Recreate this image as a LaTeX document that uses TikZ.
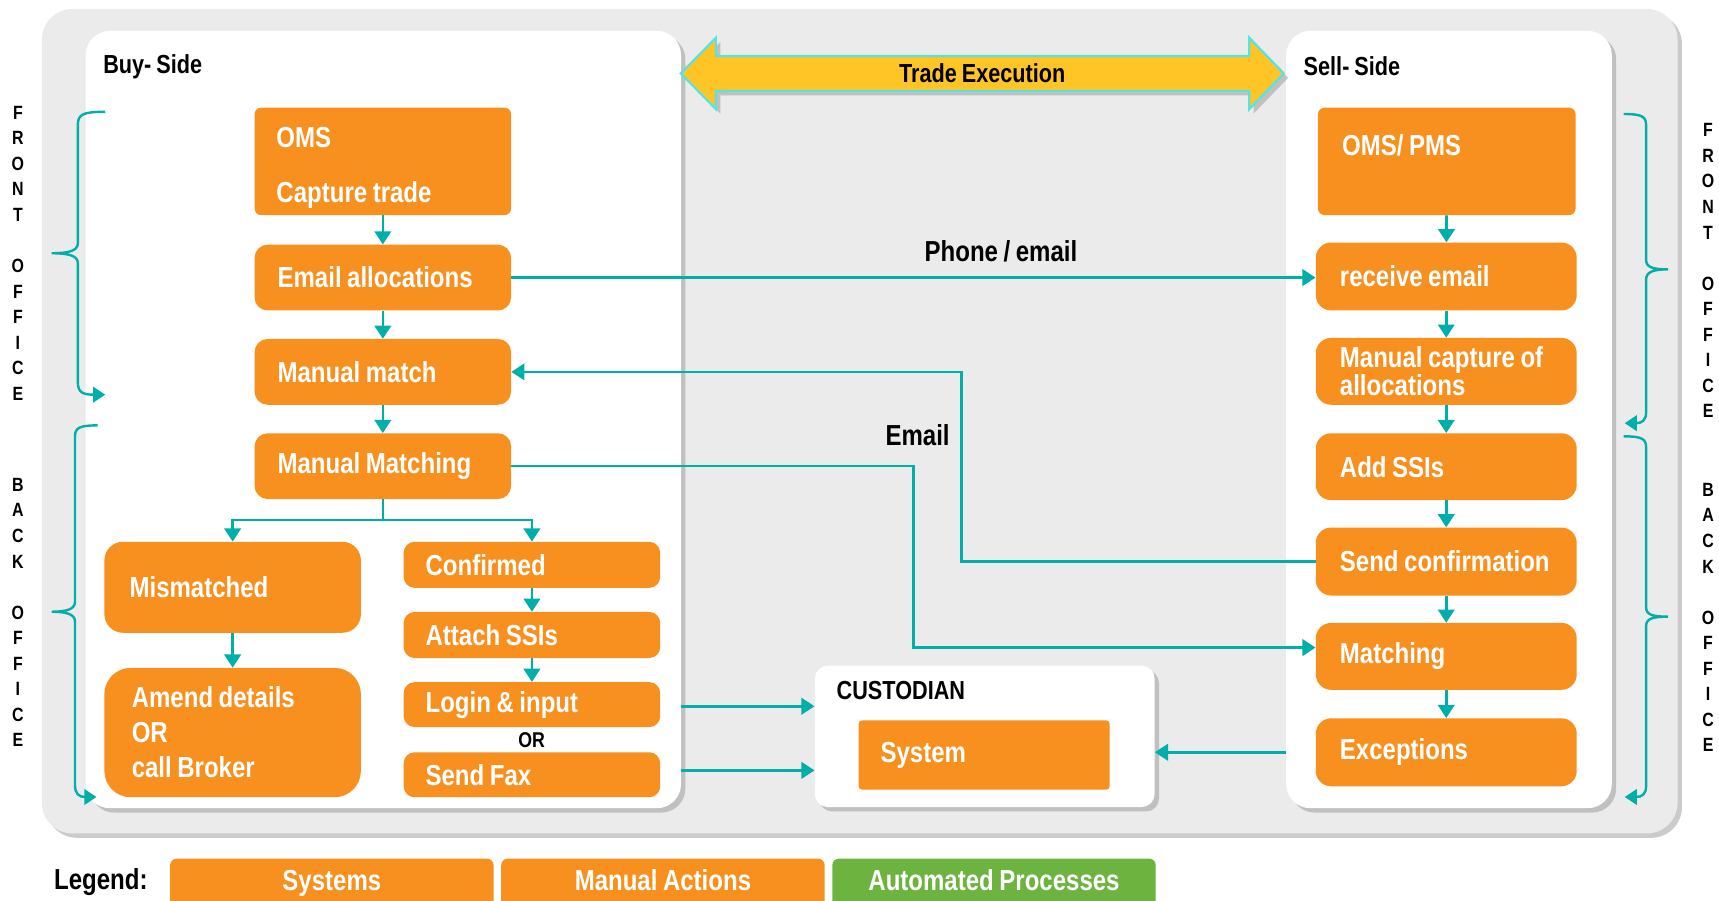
\documentclass[tikz,border=0pt]{standalone}
\usepackage{fontspec}
\newfontfamily\cond[FakeStretch=0.83,WordSpace=0.83]{Liberation Sans}
\usetikzlibrary{arrows.meta,shadows,calc}
\definecolor{org}{HTML}{F7901E}
\definecolor{tealc}{HTML}{00AFAA}
\definecolor{grn}{HTML}{6DB33F}
\definecolor{ylw}{HTML}{FFC425}
\definecolor{cyn}{HTML}{55E3E3}
\definecolor{panelgray}{HTML}{EBEBEB}
\newcommand\boxf{\cond\bfseries\fontsize{26.4}{27}\selectfont}
\newcommand\boxfw{\cond\bfseries\fontsize{26.4}{26}\selectfont}
\newcommand\boxfa{\cond\bfseries\fontsize{26.4}{32}\selectfont}
\newcommand\boxfo{\cond\bfseries\fontsize{26.4}{50}\selectfont}
\newcommand\headf{\cond\bfseries\fontsize{23.8}{26}\selectfont}
\newcommand\vletf{\cond\bfseries\fontsize{17.5}{23.3}\selectfont}
\newcommand\orf{\cond\bfseries\fontsize{19.5}{22}\selectfont}
\begin{document}
\begin{tikzpicture}[x=1pt,y=-1pt,
  conn/.style={draw=tealc, line width=2.4pt, -{Triangle[length=12pt,width=15pt]}},
  brace/.style={draw=tealc, line width=2.2pt, -{Triangle[length=11pt,width=14pt]}},
  shad/.style={drop shadow={shadow xshift=4pt,shadow yshift=-4pt,fill=black!45,opacity=0.45}},
  panel/.style={fill=white, anchor=north west, inner sep=0pt, rounded corners=22pt, shad},
  box/.style={fill=org, text=white, font=\boxf, anchor=north west, align=flush left, inner xsep=21pt, inner ysep=0pt, rounded corners=12pt},
  sbox/.style={box, inner xsep=22pt, rounded corners=14pt, minimum width=238pt, text width=194pt},
  head/.style={font=\headf, text=black, anchor=west, inner sep=0pt},
  lbl/.style={font=\boxf, text=black, inner sep=0pt},
  vlet/.style={font=\vletf, text=black, align=center, inner sep=0pt},
  legbox/.style={anchor=north west, text=white, font=\boxf, minimum width=295pt, minimum height=44pt, rounded corners=6pt, inner sep=0pt, text height=19pt, text depth=5.5pt}
]
\useasboundingbox (0,0) rectangle (1568,821);
\clip (0,0) rectangle (1568,821);
\fill[white] (0,0) rectangle (1568,821);

% outer gray frame
\node[fill=panelgray, anchor=north west, inner sep=0pt, rounded corners=28pt, minimum width=1492pt, minimum height=752pt, shad] (outer) at (38,8) {};

% panels
\node[panel, minimum width=543pt, minimum height=709pt] (buy) at (78,28) {};
\node[panel, minimum width=297pt, minimum height=709pt] (sell) at (1173,28) {};
\node[panel, rounded corners=12pt, minimum width=310pt, minimum height=129pt] (cust) at (743,607) {};

\node[head] (buylbl) at (94,61) {Buy- Side};
\node[head] (selllbl) at (1189,60) {Sell- Side};
\node[head] (custlbl) at (763,630) {CUSTODIAN};

% trade execution double arrow
\path[fill=ylw, draw=cyn, line width=2pt, shad]
  (621,67) -- (653,34.4) -- (653,51) -- (1139.5,51) -- (1139.5,34.4) -- (1171,67)
  -- (1139.5,99.6) -- (1139.5,83) -- (653,83) -- (653,99.6) -- cycle;
\node[lbl, font=\headf] (trade) at (896,67) {Trade Execution};

% buy side boxes
\node[box, rounded corners=6pt, minimum width=234pt, minimum height=98pt, text width=194pt, inner xsep=20pt, font=\boxfo] (oms) at (232,98) {\rule{0pt}{31pt}OMS\\\mbox{Capture trade}};
\node[box, minimum width=234pt, minimum height=60pt, text width=192pt] (email) at (232,223) {\mbox{Email allocations}};
\node[box, minimum width=234pt, minimum height=60pt, text width=192pt] (mmat) at (232,309) {\mbox{Manual match}};
\node[box, minimum width=234pt, minimum height=60pt, text width=192pt] (mmatch) at (232,395) {\mbox{Manual Matching}};
\node[box, rounded corners=17pt, minimum width=234pt, minimum height=83pt, text width=188pt, inner xsep=23pt] (mism) at (95,494) {Mismatched};
\node[box, rounded corners=24pt, minimum width=234pt, minimum height=118pt, text width=184pt, inner xsep=25pt, font=\boxfa] (amend) at (95,609) {\mbox{Amend details}\\OR\\\mbox{call Broker}};
\node[box, rounded corners=10pt, minimum width=234pt, minimum height=42pt, text width=194pt, inner xsep=20pt] (conf) at (368,494) {Confirmed};
\node[box, rounded corners=10pt, minimum width=234pt, minimum height=42pt, text width=194pt, inner xsep=20pt] (attach) at (368,558) {\mbox{Attach SSIs}};
\node[box, rounded corners=10pt, minimum width=234pt, minimum height=41pt, text width=194pt, inner xsep=20pt] (login) at (368,622) {\mbox{Login \& input}};
\node[lbl, font=\orf] (ortext) at (485,675) {OR};
\node[box, rounded corners=10pt, minimum width=234pt, minimum height=41pt, text width=194pt, inner xsep=20pt] (fax) at (368,686) {\mbox{Send Fax}};

% sell side boxes
\node[sbox, rounded corners=6pt, minimum width=235pt, text width=191pt, minimum height=98pt] (opms) at (1202,98) {\rule[-30pt]{0pt}{30pt}\mbox{OMS/ PMS}};
\node[sbox, minimum height=62pt] (remail) at (1200,221) {\mbox{receive email}};
\node[sbox, minimum height=61pt, font=\boxfw] (mcap) at (1200,308) {\mbox{Manual capture of}\\allocations};
\node[sbox, minimum height=61pt] (addssi) at (1200,395) {\mbox{Add SSIs}};
\node[sbox, minimum height=62pt] (sconf) at (1200,481) {\mbox{Send confirmation}};
\node[sbox, minimum height=61pt] (match) at (1200,568) {Matching};
\node[sbox, minimum height=62pt] (exc) at (1200,655) {Exceptions};

% custodian system
\node[box, rounded corners=3pt, minimum width=229pt, minimum height=63pt, text width=189pt, inner xsep=20pt] (system) at (783,657) {System};

% buy-side flow
\draw[conn] (oms) -- (email);
\draw[conn] (email) -- (mmat);
\draw[conn] (mmat) -- (mmatch);
\draw[conn] (mmatch.south) -- ++(0,19) -| (mism.north);
\draw[conn] (mmatch.south) -- ++(0,19) -| (conf.north);
\draw[conn] (mism) -- (amend);
\draw[conn] (conf) -- (attach);
\draw[conn] (attach) -- (login);

% sell-side flow
\draw[conn] (opms) -- (remail);
\draw[conn] (remail) -- (mcap);
\draw[conn] (mcap) -- (addssi);
\draw[conn] (addssi) -- (sconf);
\draw[conn] (sconf) -- (match);
\draw[conn] (match) -- (exc);

% cross connectors
\coordinate (bendA) at (833,0);
\coordinate (bendB) at (877,0);
\draw[conn] (email.east) -- (email.east -| remail.west);
\node[lbl] (phone) at (913,229) {Phone / email};
\draw[conn] (sconf.west) -- (sconf.west -| bendB) -- (mmat.east -| bendB) -- (mmat.east);
\node[lbl] (emaillbl) at (837,397) {Email};
\draw[conn] (mmatch.east) -- (mmatch.east -| bendA) -- ($(match.west -| bendA)+(0,-8)$) -- ($(match.west)+(0,-8)$);
\draw[conn] ($(login.east -| buy.east)+(0,1.5)$) -- ($(login.east -| cust.west)+(0,1.5)$);
\draw[conn] ($(fax.east -| buy.east)+(0,-4)$) -- ($(fax.east -| cust.west)+(0,-4)$);
\draw[conn] (exc.west -| sell.west) -- (exc.west -| cust.east);

% braces
\draw[brace] (96,102) .. controls (76,102) and (71,104) .. (71,114) -- (71,222) .. controls (71,229) and (62,231) .. (47,231) .. controls (62,231) and (71,233) .. (71,240) -- (71,348) .. controls (71,357) and (74,360) .. (96,360);
\draw[brace] (89,388) .. controls (73,388) and (68.4,390) .. (68.4,398) -- (68.4,549) .. controls (68.4,556) and (60,558) .. (47,558) .. controls (60,558) and (68.4,560) .. (68.4,567) -- (68.4,716) .. controls (68.4,724) and (72,727) .. (88,727);
\draw[brace] (1481,104) .. controls (1497,104) and (1501.5,106) .. (1501.5,114) -- (1501.5,237) .. controls (1501.5,244) and (1508,245.7) .. (1521.6,245.7) .. controls (1508,245.7) and (1501.5,248) .. (1501.5,255) -- (1501.5,376) .. controls (1501.5,383) and (1498,386) .. (1482,386);
\draw[brace] (1481,398) .. controls (1497,398) and (1501.5,400) .. (1501.5,408) -- (1501.5,554) .. controls (1501.5,561) and (1508,562.5) .. (1521.6,562.5) .. controls (1508,562.5) and (1501.5,564) .. (1501.5,571) -- (1501.5,717) .. controls (1501.5,724) and (1498,727) .. (1482,727);

% vertical labels
\node[vlet] (lfront) at (16.3,231) {F\\R\\O\\N\\T\\[23.3pt]O\\F\\F\\I\\C\\E};
\node[vlet] (lback) at (16.3,558.7) {B\\A\\C\\K\\[23.3pt]O\\F\\F\\I\\C\\E};
\node[vlet] (rfront) at (1558,247) {F\\R\\O\\N\\T\\[23.3pt]O\\F\\F\\I\\C\\E};
\node[vlet] (rback) at (1558,563.3) {B\\A\\C\\K\\[23.3pt]O\\F\\F\\I\\C\\E};

% legend
\node[lbl] (legend) at (92,805) {Legend:};
\node[legbox, fill=org] (lsys) at (155,783) {Systems};
\node[legbox, fill=org] (lman) at (457,783) {Manual Actions};
\node[legbox, fill=grn] (lauto) at (759,783) {Automated Processes};
\end{tikzpicture}
\end{document}
